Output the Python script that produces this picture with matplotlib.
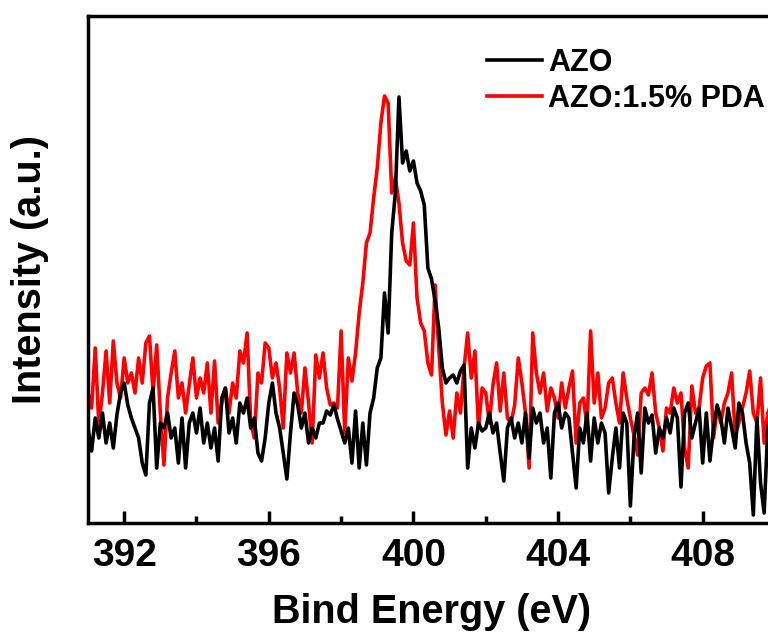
import numpy as np
import matplotlib
matplotlib.use("Agg")
import matplotlib.pyplot as plt
from matplotlib.ticker import MultipleLocator

plt.rcParams['font.family'] = ['Liberation Sans', 'DejaVu Sans']
plt.rcParams['font.weight'] = 'bold'

# Binding energy grid (eV), 0.1 eV steps from 391.0 to 410.0
energy_start = 391.0
energy_step = 0.1

azo = [
    95, 72, 105, 85, 110, 80, 100, 75, 108, 130,
    140, 118, 105, 95, 85, 60, 48, 120, 135, 55,
    100, 95, 110, 85, 95, 60, 105, 55, 100, 110,
    90, 115, 80, 100, 75, 95, 62, 125, 135, 90,
    105, 80, 120, 110, 125, 95, 105, 70, 62, 85,
    120, 140, 110, 95, 70, 44, 90, 130, 118, 95,
    110, 80, 95, 85, 100, 100, 112, 108, 118, 104,
    92, 80, 95, 60, 112, 55, 100, 58, 110, 125,
    155, 165, 230, 190, 290, 330, 426, 360, 372, 352,
    362, 340, 332, 318, 255, 244, 222, 195, 155, 140,
    145, 148, 140, 152, 158, 55, 95, 75, 100, 92,
    95, 110, 90, 100, 70, 42, 95, 105, 85, 100,
    80, 110, 65, 115, 100, 110, 80, 95, 45, 110,
    120, 95, 110, 105, 70, 35, 95, 80, 110, 62,
    105, 80, 100, 90, 30, 65, 95, 55, 110, 100,
    17, 85, 110, 50, 115, 100, 108, 70, 95, 85,
    105, 90, 115, 105, 36, 110, 120, 85, 100, 115,
    60, 110, 62, 95, 118, 105, 80, 115, 95, 75,
    120, 110, 80, 60, 8, 105, 40, 10, 95, 110,
    100,
]

azo_pda = [
    130, 115, 175, 98, 130, 172, 120, 182, 140, 125,
    165, 140, 150, 130, 165, 140, 180, 187, 130, 178,
    110, 58, 125, 150, 172, 125, 140, 110, 138, 165,
    125, 145, 130, 160, 110, 162, 100, 120, 135, 110,
    140, 125, 172, 160, 190, 100, 85, 150, 140, 180,
    175, 145, 160, 135, 95, 170, 150, 170, 130, 110,
    155, 120, 80, 168, 145, 170, 135, 118, 120, 115,
    192, 90, 165, 142, 170, 210, 240, 280, 290, 325,
    355, 400, 427, 420, 330, 345, 320, 280, 262, 258,
    300, 225, 200, 192, 160, 148, 238, 175, 120, 88,
    112, 85, 130, 110, 155, 190, 145, 172, 95, 135,
    130, 100, 138, 160, 112, 150, 105, 100, 118, 165,
    140, 110, 55, 190, 150, 130, 150, 112, 135, 125,
    105, 140, 115, 135, 152, 80, 120, 125, 97, 192,
    120, 150, 105, 115, 140, 145, 120, 100, 150, 125,
    105, 88, 68, 130, 135, 128, 150, 110, 95, 72,
    115, 110, 135, 120, 130, 75, 55, 137, 110, 115,
    145, 157, 160, 85, 115, 100, 120, 130, 150, 88,
    100, 115, 130, 152, 110, 100, 145, 80, 110, 120,
    115,
]

series_labels = ['AZO', 'AZO:1.5% PDA']
series_colors = ['#000000', '#ff0000']

xticks_major = [392, 396, 400, 404, 408]
x_label = 'Bind Energy (eV)'
y_label = 'Intensity (a.u.)'

energy = energy_start + energy_step * np.arange(len(azo))

W, H = 768, 641
fig = plt.figure(figsize=(W / 100, H / 100), dpi=100)
left, right, top, bottom = 88, 775, 16, 523
ax = fig.add_axes([left / W, 1 - bottom / H, (right - left) / W, (bottom - top) / H])

ax.plot(energy, azo, color=series_colors[0], lw=2.6, label=series_labels[0], zorder=3)
ax.plot(energy, azo_pda, color=series_colors[1], lw=2.6, label=series_labels[1], zorder=2)

ax.set_xlim(391, 410)
ax.set_ylim(0, 507)
ax.set_xticks(xticks_major)
ax.xaxis.set_minor_locator(MultipleLocator(2))
ax.set_yticks([])
ax.tick_params(axis='x', which='major', direction='in', length=9, width=2.5,
               labelsize=28, pad=11, top=False)
ax.tick_params(axis='x', which='minor', direction='in', length=5, width=2.5, top=False)
for lab in ax.get_xticklabels():
    lab.set_fontweight('bold')
for s in ax.spines.values():
    s.set_linewidth(2.5)

ax.set_xlabel(x_label, fontsize=28.5, fontweight='bold')
ax.set_ylabel(y_label, fontsize=28.5, fontweight='bold')
ax.xaxis.set_label_coords(0.5, (bottom - 612) / (bottom - top))
ax.xaxis.label.set_va('center')
ax.yaxis.set_label_coords((30 - left) / (right - left), (bottom - 270) / (bottom - top))
ax.yaxis.label.set_va('center')

leg = ax.legend(loc='upper left', bbox_to_anchor=(0.563, 0.961), frameon=False,
                fontsize=22, handlelength=1.8, handletextpad=0.2,
                labelspacing=0.2, borderaxespad=0)
for t in leg.get_texts():
    t.set_fontweight('bold')
for h in leg.get_lines():
    h.set_linewidth(2.6)

fig.savefig('out.png', dpi=100)
